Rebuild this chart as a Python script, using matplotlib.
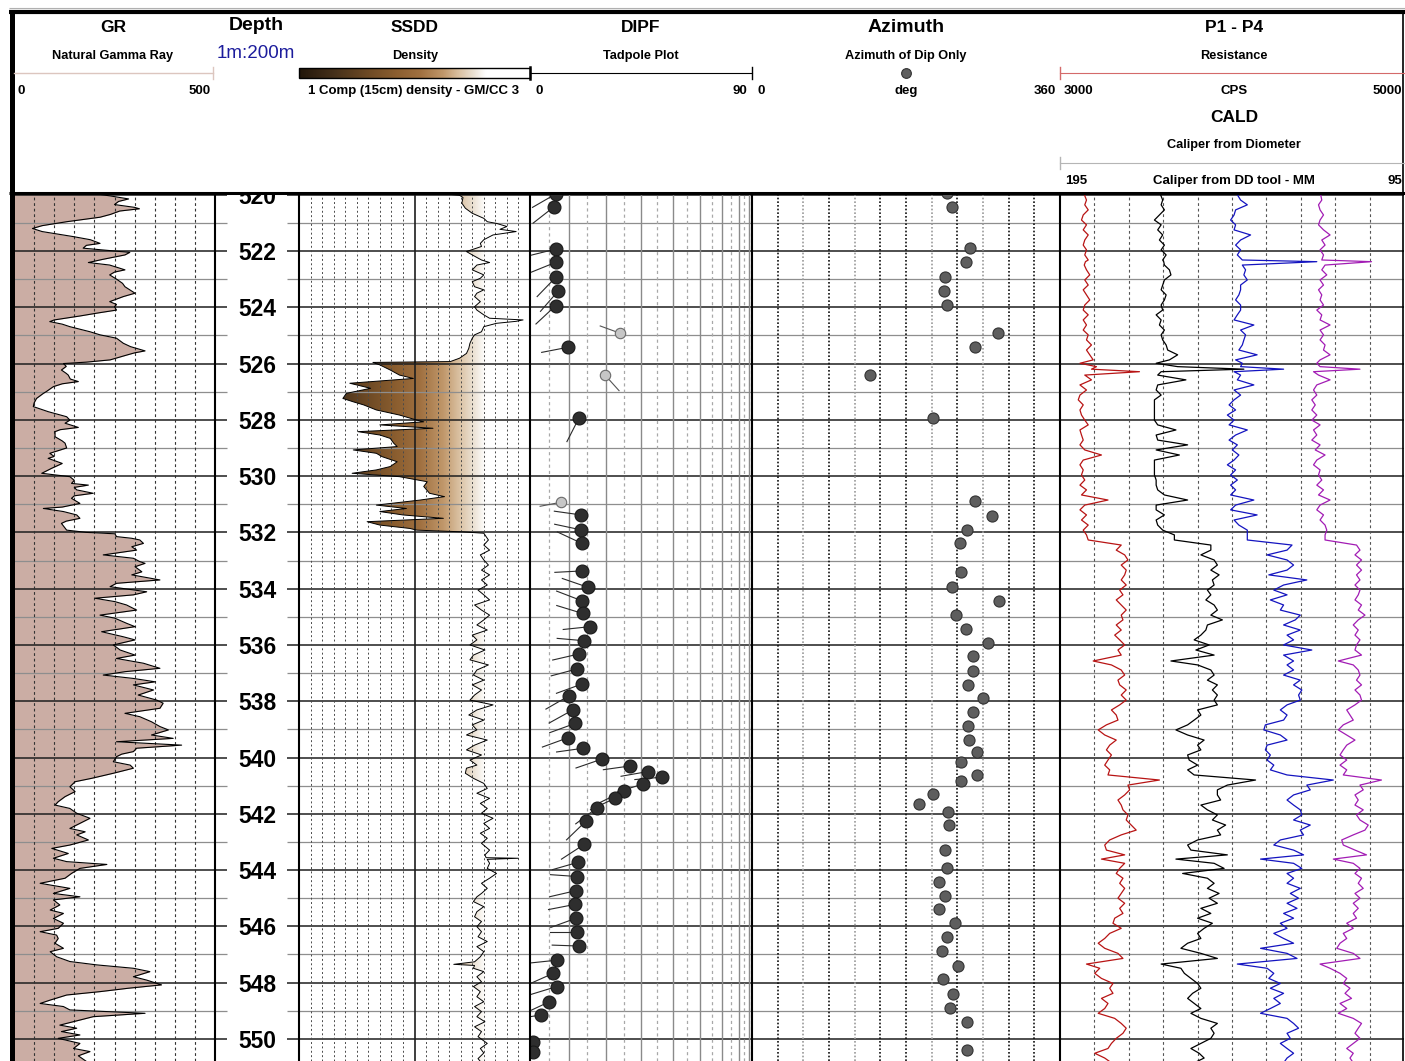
import numpy as np
import matplotlib
matplotlib.use("Agg")
import matplotlib.pyplot as plt
from matplotlib.colors import LinearSegmentedColormap
from matplotlib.patches import PathPatch, Rectangle
from matplotlib.path import Path
from matplotlib.ticker import MultipleLocator, NullLocator

plt.rcParams['font.family'] = ['Liberation Sans', 'DejaVu Sans']

# ---------------- log data ----------------
# natural gamma ray (API)
gr_depth = [519.95, 520.07, 520.15, 520.24, 520.35, 520.45, 520.50, 520.58, 520.70, 520.80,
            520.96, 521.10, 521.20, 521.31, 521.49, 521.60, 521.73, 521.80, 521.90, 522.00,
            522.05, 522.14, 522.30, 522.41, 522.50, 522.67, 522.75, 522.85, 523.00, 523.15,
            523.27, 523.40, 523.50, 523.62, 523.80, 523.90, 523.98, 524.10, 524.20, 524.31,
            524.45, 524.51, 524.60, 524.69, 524.87, 524.98, 525.10, 525.28, 525.40, 525.55,
            525.62, 525.70, 525.87, 525.95, 526.00, 526.10, 526.23, 526.35, 526.41, 526.55,
            526.64, 526.72, 526.82, 527.00, 527.06, 527.24, 527.40, 527.53, 527.71, 527.89,
            528.01, 528.12, 528.27, 528.35, 528.42, 528.60, 528.75, 528.83, 529.00, 529.19,
            529.30, 529.37, 529.50, 529.55, 529.72, 529.90, 530.02, 530.15, 530.26, 530.32,
            530.40, 530.49, 530.61, 530.70, 530.79, 530.97, 531.10, 531.15, 531.26, 531.38,
            531.50, 531.60, 531.68, 531.92, 532.00,
            532.05, 532.15, 532.21, 532.27, 532.39, 532.51, 532.63, 532.80, 532.92, 533.04,
            533.10, 533.22, 533.40, 533.51, 533.69, 533.81, 533.93, 534.11, 534.22, 534.34,
            534.46, 534.58, 534.76, 534.94, 535.05, 535.23, 535.35, 535.53, 535.71, 535.82,
            536.00, 536.18, 536.36, 536.48, 536.65, 536.83, 536.95, 537.07, 537.19, 537.31,
            537.42, 537.60, 537.78, 537.96, 538.07, 538.25, 538.43, 538.55, 538.73, 538.90,
            539.02, 539.20, 539.32, 539.44, 539.56, 539.67, 539.79, 539.88, 539.97, 540.15,
            540.27, 540.38, 540.56, 540.74, 540.86, 541.04, 541.21, 541.39, 541.57, 541.69,
            541.81, 541.98, 542.16, 542.34, 542.52, 542.64, 542.75, 542.93, 543.11, 543.23,
            543.41, 543.58, 543.70, 543.80, 543.94, 544.12, 544.29, 544.47, 544.65, 544.83,
            544.95, 545.06, 545.24, 545.42, 545.54, 545.72, 545.89, 546.07, 546.19, 546.31,
            546.43, 546.60, 546.78, 546.90, 547.08, 547.25, 547.37, 547.49, 547.61, 547.79,
            547.91, 548.08, 548.20, 548.32, 548.44, 548.62, 548.74, 548.85, 548.97, 549.09,
            549.21, 549.33, 549.51, 549.62, 549.74, 549.86, 549.98, 550.16, 550.34, 550.45,
            550.60, 550.80]
gr_api = [197, 251, 285, 260, 250, 300, 312, 263, 240, 214,
          131, 70, 46, 70, 148, 190, 214, 180, 172, 250,
          288, 276, 220, 185, 238, 276, 250, 238, 255, 270,
          276, 290, 301, 272, 238, 255, 250, 255, 210, 164,
          100, 89, 120, 139, 189, 214, 255, 272, 290, 326,
          300, 280, 239, 180, 123, 130, 118, 130, 135, 140,
          160, 120, 98, 80, 73, 56, 50, 48, 85, 131,
          139, 127, 160, 115, 102, 102, 120, 127, 131, 89,
          100, 85, 110, 120, 94, 69, 139, 150, 143, 185,
          150, 156, 197, 150, 143, 164, 120, 73, 123, 156,
          164, 130, 118, 131, 180,
          251, 255, 293, 313, 322, 293, 305, 222, 297, 313,
          326, 301, 318, 293, 363, 255, 239, 330, 297, 201,
          251, 280, 305, 214, 251, 280, 301, 218, 272, 301,
          247, 264, 301, 255, 322, 363, 276, 222, 297, 351,
          297, 347, 309, 355, 371, 363, 276, 313, 342, 363,
          384, 342, 396, 255, 417, 305, 297, 268, 255, 247,
          289, 297, 247, 193, 152, 139, 152, 127, 110, 102,
          139, 156, 189, 164, 139, 177, 156, 185, 139, 94,
          135, 98, 131, 231, 164, 143, 127, 65, 139, 98,
          164, 98, 114, 90, 123, 98, 123, 110, 65, 106,
          110, 102, 123, 90, 106, 139, 206, 297, 338, 297,
          330, 367, 284, 214, 131, 90, 65, 123, 139, 326,
          197, 164, 114, 156, 118, 164, 110, 164, 148, 189,
          160, 180]

# compensated density (g/cc)
dens_depth = [519.97, 520.02, 520.10, 520.30, 520.48, 520.66, 520.84, 520.96, 521.02, 521.13,
              521.23, 521.31, 521.43, 521.60, 521.73, 521.84, 522.02, 522.14, 522.32, 522.41,
              522.50, 522.67, 522.85, 522.97, 523.09, 523.27, 523.38, 523.50, 523.62, 523.80,
              523.98, 524.10, 524.27, 524.39, 524.45, 524.50, 524.57, 524.69, 524.87, 524.98,
              525.10, 525.28, 525.46, 525.64, 525.81, 525.93, 525.96, 526.05, 526.23, 526.41,
              526.53, 526.70, 526.88, 527.06, 527.24, 527.36, 527.47, 527.65, 527.83, 528.01,
              528.07, 528.18, 528.30, 528.42, 528.54, 528.66, 528.83, 528.95, 529.07, 529.19,
              529.31, 529.49, 529.66, 529.78, 529.90, 530.02, 530.20, 530.37, 530.61, 530.73,
              530.85, 531.03, 531.15, 531.26, 531.38, 531.50, 531.62, 531.74, 531.86, 531.92,
              531.98,
              532.03, 532.27, 532.45, 532.63, 532.80, 532.98, 533.16, 533.34, 533.51, 533.69,
              533.87, 534.05, 534.22, 534.40, 534.58, 534.76, 534.94, 535.11, 535.29, 535.47,
              535.65, 535.82, 536.00, 536.18, 536.36, 536.53, 536.71, 536.89, 537.07, 537.25,
              537.42, 537.60, 537.78, 537.96, 538.13, 538.31, 538.49, 538.67, 538.84, 539.02,
              539.20, 539.38, 539.56, 539.73, 539.91, 540.09, 540.27, 540.38, 540.56, 540.74,
              540.92, 541.10, 541.27, 541.45, 541.63, 541.81, 541.98, 542.16, 542.34, 542.52,
              542.69, 542.87, 543.05, 543.29, 543.46, 543.56, 543.58, 543.62, 543.76, 543.94,
              544.12, 544.29, 544.47, 544.65, 544.83, 544.95, 545.12, 545.30, 545.48, 545.66,
              545.83, 546.01, 546.19, 546.37, 546.54, 546.72, 546.90, 547.08, 547.26, 547.35,
              547.39, 547.49, 547.61, 547.79, 547.97, 548.14, 548.32, 548.50, 548.68, 548.85,
              549.03, 549.21, 549.39, 549.57, 549.74, 549.92, 550.16, 550.34, 550.50, 550.70,
              550.85]
dens_gcc = [2.26, 2.39, 2.42, 2.41, 2.44, 2.50, 2.60, 2.63, 2.71, 2.80,
            2.74, 2.88, 2.68, 2.60, 2.57, 2.58, 2.45, 2.50, 2.58, 2.65,
            2.54, 2.50, 2.60, 2.57, 2.50, 2.52, 2.60, 2.54, 2.52, 2.57,
            2.52, 2.54, 2.60, 2.65, 2.94, 2.88, 2.71, 2.60, 2.58, 2.52,
            2.50, 2.48, 2.47, 2.45, 2.39, 2.31, 1.64, 1.70, 1.79, 1.87,
            1.99, 1.44, 1.62, 1.41, 1.38, 1.47, 1.56, 1.67, 1.87, 2.02,
            2.08, 1.70, 2.16, 1.51, 1.70, 1.79, 1.82, 1.85, 1.47, 1.67,
            1.72, 1.85, 1.79, 1.67, 1.46, 1.87, 2.11, 2.08, 2.13, 2.26,
            2.05, 1.67, 1.93, 1.70, 1.90, 2.25, 1.59, 1.70, 1.96, 2.02,
            2.41,
            2.60, 2.64, 2.60, 2.65, 2.57, 2.60, 2.64, 2.58, 2.65, 2.58,
            2.63, 2.55, 2.60, 2.65, 2.52, 2.58, 2.65, 2.60, 2.54, 2.63,
            2.50, 2.54, 2.48, 2.61, 2.51, 2.48, 2.64, 2.54, 2.51, 2.60,
            2.50, 2.58, 2.52, 2.48, 2.68, 2.54, 2.47, 2.60, 2.50, 2.54,
            2.45, 2.63, 2.52, 2.45, 2.58, 2.48, 2.54, 2.45, 2.44, 2.51,
            2.60, 2.63, 2.54, 2.65, 2.57, 2.63, 2.58, 2.68, 2.60, 2.65,
            2.57, 2.63, 2.58, 2.65, 2.61, 2.62, 2.90, 2.63, 2.65, 2.63,
            2.71, 2.65, 2.58, 2.63, 2.58, 2.54, 2.51, 2.60, 2.54, 2.52,
            2.58, 2.54, 2.58, 2.55, 2.63, 2.54, 2.60, 2.57, 2.52, 2.34,
            2.52, 2.51, 2.60, 2.54, 2.58, 2.51, 2.57, 2.54, 2.60, 2.52,
            2.58, 2.54, 2.61, 2.52, 2.58, 2.55, 2.63, 2.57, 2.60, 2.55,
            2.58]

# dip picks (tadpoles): depth, dip (deg), dip azimuth (deg), quality (1 good, 0 poor)
tad_depth = [519.97, 520.42, 521.93, 522.40, 522.93, 523.42, 523.94, 524.92, 525.42, 526.41,
             527.92, 530.93, 531.38, 531.91, 532.39, 533.37, 533.95, 534.43, 534.88, 535.35,
             535.85, 536.32, 536.85, 537.39, 537.80, 538.31, 538.79, 539.30, 539.67, 540.06,
             540.30, 540.50, 540.70, 540.94, 541.18, 541.45, 541.78, 542.26, 543.09, 543.72,
             544.23, 544.73, 545.22, 545.71, 546.21, 546.70, 547.20, 547.67, 548.14, 548.68,
             549.15, 550.10, 550.45]
tad_dip = [6.7, 6.3, 6.7, 6.7, 6.7, 7.3, 6.65, 23.9, 9.9, 19.75,
           12.8, 7.95, 13.3, 13.3, 13.5, 13.5, 15.1, 13.5, 13.7, 15.7,
           14.1, 12.75, 12.3, 13.5, 10.2, 11.1, 11.7, 9.8, 13.9, 18.8,
           26.8, 32.0, 36.4, 30.7, 25.1, 22.5, 17.65, 14.6, 14.1, 12.6,
           12.3, 12.0, 11.7, 12.0, 12.3, 12.8, 7.1, 6.0, 6.9, 5.0,
           2.8, 0.85, 0.85]
tad_azi = [240, 232, 256, 248, 224, 221, 227, 290, 259, 138,
           207, 259, 278, 282, 295, 267, 289, 291, 287, 264,
           275, 257, 255, 250, 240, 241, 250, 250, 262, 251,
           262, 260, 265, 253, 244, 245, 233, 226, 237, 254,
           274, 257, 259, 250, 270, 272, 264, 246, 253, 245,
           261, 250, 250]
tad_good = [1, 1, 1, 1, 1, 1, 1, 0, 1, 0,
            1, 0, 1, 1, 1, 1, 1, 1, 1, 1,
            1, 1, 1, 1, 1, 1, 1, 1, 1, 1,
            1, 1, 1, 1, 1, 1, 1, 1, 1, 1,
            1, 1, 1, 1, 1, 1, 1, 1, 1, 1,
            1, 1, 1]

# azimuth of dip only
azi_depth = [519.93, 520.43, 521.90, 522.40, 522.93, 523.43, 523.92, 524.92, 525.42, 526.41,
             527.93, 530.89, 531.42, 531.91, 532.37, 533.40, 533.95, 534.44, 534.94, 535.43,
             535.92, 536.38, 536.91, 537.44, 537.90, 538.39, 538.88, 539.38, 539.81, 540.17,
             540.62, 540.82, 541.31, 541.65, 541.94, 542.40, 543.27, 543.92, 544.41, 544.91,
             545.40, 545.89, 546.39, 546.88, 547.41, 547.87, 548.40, 548.89, 549.39, 550.39]
azi_deg = [228, 234, 255, 250, 226, 224, 228, 287, 261, 138,
           211, 261, 281, 251, 243, 244, 234, 289, 238, 250,
           276, 258, 258, 253, 270, 258, 253, 254, 263, 244,
           263, 244, 211, 195, 229, 230, 226, 228, 219, 226,
           219, 237, 228, 222, 241, 223, 235, 231, 251, 251]

# resistance P1 - P4 (CPS)
p_depth = [519.90, 520.19, 520.36, 520.54, 520.72, 520.90, 521.07, 521.25, 521.43, 521.61,
           521.79, 521.96, 522.14, 522.32, 522.38, 522.50, 522.67, 522.85, 523.03, 523.21,
           523.38, 523.56, 523.74, 523.92, 524.10, 524.27, 524.45, 524.63, 524.81, 524.98,
           525.16, 525.34, 525.52, 525.69, 525.87, 525.99, 526.11, 526.20, 526.29, 526.41,
           526.58, 526.76, 526.94, 527.12, 527.29, 527.47, 527.65, 527.83, 528.01, 528.18,
           528.36, 528.54, 528.72, 528.89, 529.07, 529.25, 529.43, 529.60, 529.78, 529.96,
           530.14, 530.32, 530.49, 530.67, 530.85, 531.03, 531.20, 531.38, 531.56, 531.74,
           531.92,
           532.09, 532.27, 532.45, 532.63, 532.80, 532.98, 533.16, 533.34, 533.51, 533.69,
           533.87, 534.05, 534.22, 534.40, 534.58, 534.76, 534.94, 535.11, 535.29, 535.47,
           535.65, 535.82, 536.00, 536.18, 536.36, 536.57, 536.71, 536.89, 537.07, 537.25,
           537.42, 537.60, 537.78, 537.96, 538.13, 538.31, 538.49, 538.67, 538.84, 539.02,
           539.20, 539.38, 539.56, 539.73, 539.91, 540.09, 540.27, 540.44, 540.62, 540.80,
           540.98, 541.15, 541.33, 541.51, 541.69, 541.86, 542.04, 542.22, 542.40, 542.58,
           542.75, 542.93, 543.11, 543.29, 543.46, 543.61, 543.76, 543.94, 544.12, 544.29,
           544.47, 544.65, 544.83, 545.00, 545.18, 545.36, 545.54, 545.71, 545.89, 546.07,
           546.25, 546.43, 546.60, 546.78, 546.96, 547.14, 547.34, 547.49, 547.67, 547.85,
           548.03, 548.20, 548.38, 548.56, 548.74, 548.92, 549.09, 549.27, 549.45, 549.62,
           549.80, 549.98, 550.16, 550.34, 550.51, 550.68, 550.85]
p1_cps = [3135, 3154, 3144, 3164, 3135, 3125, 3154, 3135, 3164, 3144,
          3135, 3154, 3144, 3164, 3148, 3141, 3154, 3173, 3144, 3164,
          3135, 3154, 3173, 3144, 3135, 3164, 3135, 3154, 3135, 3164,
          3154, 3183, 3154, 3173, 3193, 3116, 3212, 3183, 3462, 3144,
          3183, 3116, 3154, 3116, 3106, 3135, 3116, 3125, 3144, 3164,
          3116, 3125, 3135, 3116, 3144, 3241, 3135, 3116, 3135, 3125,
          3144, 3116, 3154, 3125, 3279, 3144, 3116, 3154, 3125, 3164,
          3135,
          3154, 3164, 3356, 3327, 3376, 3395, 3356, 3385, 3376, 3356,
          3385, 3347, 3366, 3327, 3356, 3385, 3356, 3366, 3327, 3356,
          3318, 3347, 3376, 3337, 3356, 3193, 3299, 3356, 3376, 3337,
          3347, 3385, 3356, 3385, 3347, 3299, 3327, 3337, 3270, 3222,
          3260, 3327, 3289, 3270, 3299, 3279, 3260, 3289, 3279, 3578,
          3395, 3405, 3376, 3337, 3356, 3366, 3395, 3385, 3414, 3443,
          3356, 3289, 3260, 3270, 3376, 3241, 3376, 3347, 3327, 3366,
          3347, 3376, 3356, 3337, 3376, 3347, 3366, 3318, 3308, 3356,
          3289, 3260, 3222, 3260, 3337, 3366, 3154, 3231, 3202, 3241,
          3308, 3289, 3308, 3241, 3279, 3260, 3222, 3318, 3356, 3385,
          3366, 3327, 3299, 3279, 3202, 3260, 3299]
p2_cps = [3578, 3597, 3588, 3607, 3578, 3549, 3588, 3568, 3597, 3578,
          3607, 3588, 3617, 3597, 3603, 3607, 3636, 3645, 3607, 3597,
          3588, 3617, 3607, 3588, 3597, 3559, 3588, 3578, 3607, 3588,
          3597, 3617, 3626, 3684, 3636, 3559, 3684, 4069, 3588, 3568,
          3732, 3568, 3559, 3588, 3549, 3549, 3549, 3549, 3549, 3568,
          3674, 3559, 3568, 3742, 3559, 3694, 3549, 3549, 3549, 3549,
          3559, 3559, 3568, 3607, 3742, 3559, 3559, 3607, 3559, 3568,
          3597,
          3665, 3665, 3877, 3877, 3819, 3896, 3915, 3877, 3925, 3886,
          3896, 3857, 3877, 3848, 3896, 3915, 3877, 3944, 3857, 3848,
          3819, 3780, 3867, 3790, 3896, 3645, 3800, 3877, 3896, 3857,
          3915, 3886, 3915, 3896, 3915, 3800, 3819, 3780, 3742, 3674,
          3742, 3838, 3800, 3819, 3742, 3751, 3800, 3742, 3780, 4137,
          3973, 3915, 3915, 3934, 3819, 3857, 3915, 3886, 3963, 3915,
          3934, 3800, 3742, 3761, 3973, 3674, 3896, 3954, 3713, 3857,
          3896, 3857, 3925, 3867, 3915, 3819, 3877, 3800, 3886, 3838,
          3800, 3819, 3742, 3703, 3819, 3915, 3588, 3703, 3723, 3761,
          3800, 3819, 3771, 3742, 3780, 3819, 3761, 3819, 3915, 3877,
          3896, 3877, 3819, 3761, 3809, 3838, 3780]
p3_cps = [4021, 4050, 4089, 4021, 4012, 3992, 4021, 4012, 4108, 4050,
          4021, 4050, 4031, 4060, 4493, 4060, 4079, 4069, 4089, 4050,
          4050, 4040, 4021, 4050, 4050, 4031, 4012, 4127, 4050, 4079,
          4069, 4060, 4040, 4146, 4021, 4060, 4050, 4300, 4012, 4050,
          4031, 4127, 4012, 4050, 4012, 3983, 4021, 3973, 4012, 3983,
          4089, 4021, 3983, 4031, 4002, 4040, 4012, 3973, 4021, 3992,
          4031, 3992, 4021, 3992, 4127, 4021, 3992, 4146, 4012, 4040,
          4089,
          4089, 4089, 4349, 4320, 4204, 4320, 4358, 4320, 4214, 4435,
          4300, 4243, 4320, 4223, 4300, 4281, 4397, 4368, 4300, 4397,
          4320, 4358, 4300, 4464, 4300, 4358, 4320, 4358, 4300, 4397,
          4358, 4406, 4387, 4397, 4320, 4281, 4320, 4300, 4194, 4185,
          4281, 4320, 4204, 4194, 4223, 4204, 4243, 4223, 4320, 4589,
          4435, 4455, 4358, 4320, 4358, 4397, 4406, 4358, 4455, 4397,
          4416, 4281, 4243, 4358, 4416, 4166, 4358, 4406, 4320, 4358,
          4320, 4397, 4339, 4387, 4320, 4378, 4300, 4358, 4281, 4320,
          4243, 4300, 4358, 4166, 4320, 4378, 4031, 4204, 4243, 4214,
          4281, 4223, 4300, 4243, 4281, 4223, 4166, 4320, 4358, 4387,
          4320, 4339, 4281, 4320, 4358, 4320, 4300]
p4_cps = [4512, 4522, 4503, 4512, 4532, 4512, 4503, 4532, 4570, 4522,
          4541, 4512, 4532, 4522, 4811, 4541, 4522, 4551, 4512, 4532,
          4503, 4522, 4512, 4532, 4493, 4522, 4512, 4570, 4512, 4532,
          4512, 4541, 4532, 4570, 4512, 4493, 4512, 4744, 4474, 4503,
          4570, 4493, 4474, 4493, 4464, 4484, 4464, 4493, 4464, 4512,
          4474, 4493, 4464, 4512, 4484, 4541, 4493, 4474, 4512, 4503,
          4522, 4493, 4532, 4503, 4570, 4512, 4493, 4532, 4512, 4541,
          4551,
          4541, 4541, 4724, 4744, 4715, 4753, 4724, 4753, 4724, 4744,
          4715, 4744, 4734, 4715, 4753, 4734, 4773, 4734, 4705, 4734,
          4715, 4744, 4724, 4715, 4753, 4618, 4705, 4734, 4744, 4724,
          4753, 4715, 4744, 4753, 4715, 4667, 4686, 4705, 4647, 4618,
          4667, 4715, 4667, 4647, 4628, 4667, 4628, 4667, 4647, 4869,
          4744, 4763, 4715, 4734, 4715, 4763, 4724, 4744, 4792, 4773,
          4705, 4638, 4647, 4715, 4782, 4589, 4705, 4744, 4715, 4753,
          4734, 4763, 4715, 4744, 4705, 4734, 4705, 4724, 4667, 4705,
          4647, 4667, 4628, 4609, 4705, 4744, 4512, 4570, 4628, 4667,
          4647, 4686, 4657, 4695, 4628, 4667, 4618, 4705, 4753, 4734,
          4715, 4744, 4705, 4667, 4705, 4686, 4705]

# ---------------- layout ----------------
W, H = 1405, 1061
TOP = 194
D_TOP, D_BOT = 519.975, 550.785

dens_cmap = LinearSegmentedColormap.from_list('dens', [
    (0.0, '#22160a'), (0.15, '#45301a'), (0.3, '#6e4a25'), (0.425, '#8c5f30'),
    (0.525, '#a07040'), (0.625, '#c0976a'), (0.7, '#dcc4a6'), (0.76, '#ece3d6'),
    (0.81, '#ffffff'), (1.0, '#ffffff')])

fig = plt.figure(figsize=(W / 100, H / 100), dpi=100)
fig.patch.set_facecolor('white')


def track(x0, x1):
    ax = fig.add_axes([x0 / W, 0, (x1 - x0) / W, (H - TOP) / H])
    ax.set_ylim(D_BOT, D_TOP)
    ax.set_xticks([])
    ax.set_yticks([])
    for s in ax.spines.values():
        s.set_visible(False)
    return ax


def depth_lines(ax):
    for d in range(520, 551):
        if d % 2 == 0:
            ax.axhline(d, color='#1e1e1e', lw=1.1, zorder=1)
        else:
            ax.axhline(d, color='#8e8e8e', lw=0.9, zorder=1)


# GR track
ax_gr = track(14, 215)
ax_gr.set_xlim(0, 500)
depth_lines(ax_gr)
for v in range(50, 500, 50):
    ax_gr.axvline(v, color='#333333', lw=0.8, ls=(0, (2.5, 2.5)), zorder=1)
ax_gr.fill_betweenx(gr_depth, 0, gr_api, color='#cbada4', lw=0, zorder=0.5)
ax_gr.plot(gr_api, gr_depth, color='black', lw=0.8, zorder=2)

# depth track
ax_dp = track(215, 299)
ax_dp.set_xlim(0, 1)
ax_dp.yaxis.set_major_locator(MultipleLocator(2))
ax_dp.yaxis.set_minor_locator(MultipleLocator(1))
ax_dp.tick_params(axis='y', which='major', direction='in', length=8.6, width=1.1,
                  color='#1e1e1e', left=True, right=True, labelleft=False)
ax_dp.tick_params(axis='y', which='minor', direction='in', length=8.6, width=0.9,
                  color='#8e8e8e', left=True, right=True)
for d in range(520, 551, 2):
    ax_dp.text(0.5, d, str(d), transform=ax_dp.get_yaxis_transform(), ha='center',
               va='center_baseline', fontsize=16.5, fontweight='bold', clip_on=True)

# SSDD track
ax_sd = track(299, 530)
ax_sd.set_xlim(1, 3)
depth_lines(ax_sd)
for k in range(11, 30):
    if k == 20:
        ax_sd.axvline(k / 10, color='#1e1e1e', lw=1.2, zorder=1)
    else:
        ax_sd.axvline(k / 10, color='#4a4a4a', lw=0.7, ls=(0, (2, 2.5)), zorder=1)
grad = np.linspace(1, 3, 600).reshape(1, -1)
im = ax_sd.imshow(grad, extent=(1, 3, D_BOT, D_TOP), aspect='auto', cmap=dens_cmap,
                  vmin=1, vmax=3, zorder=0.5, interpolation='bilinear')
band = ax_sd.fill_betweenx(dens_depth, dens_gcc, 3, facecolor='none', edgecolor='none')
clip = PathPatch(Path.make_compound_path(*band.get_paths()), transform=ax_sd.transData,
                 facecolor='none', edgecolor='none')
ax_sd.add_patch(clip)
im.set_clip_path(clip)
ax_sd.plot(dens_gcc, dens_depth, color='black', lw=0.7, zorder=2)
ax_sd.set_xlim(1, 3)
ax_sd.set_ylim(D_BOT, D_TOP)

# DIPF tadpole track (sine scale)
ax_dip = track(530, 752)
ax_dip.set_xscale('function', functions=(lambda a: np.sin(np.radians(a)),
                                         lambda s: np.degrees(np.arcsin(np.clip(s, -1, 1)))))
ax_dip.set_xlim(0, 90)
ax_dip.xaxis.set_major_locator(NullLocator())
ax_dip.xaxis.set_minor_locator(NullLocator())
depth_lines(ax_dip)
for a in range(5, 90, 5):
    if a % 10 == 0:
        ax_dip.axvline(a, color='#8a8a8a', lw=1.0, zorder=1)
    else:
        ax_dip.axvline(a, color='#a8a8a8', lw=0.9, ls=(0, (2.5, 2.5)), zorder=1)
for d, dip, az, good in zip(tad_depth, tad_dip, tad_azi, tad_good):
    p = ax_dip.transData.transform((dip, d))
    L = 27 if good else 21
    q = p + L * np.array([np.sin(np.radians(az)), np.cos(np.radians(az))])
    qx, qy = ax_dip.transData.inverted().transform(q)
    ax_dip.plot([dip, qx], [d, qy], color='#2a2a2a' if good else '#555555', lw=0.8, zorder=3)
    if good:
        ax_dip.plot(dip, d, 'o', ms=9.3, mfc='#2e2e2e', mec='#1a1a1a', mew=0.8, zorder=4)
    else:
        ax_dip.plot(dip, d, 'o', ms=7.5, mfc='#c6c6c6', mec='#6a6a6a', mew=0.8, zorder=4)

# azimuth track
ax_az = track(752, 1060)
ax_az.set_xlim(0, 360)
depth_lines(ax_az)
for a in range(30, 360, 30):
    c = '#9a9a9a' if a in (60, 120, 210, 270) else '#111111'
    ax_az.axvline(a, color=c, lw=1.2, ls=(0, (1, 1.2)), zorder=1)
ax_az.plot(azi_deg, azi_depth, 'o', ms=8, mfc='#5e5e5e', mec='#333333', mew=0.8, zorder=3)

# P1 - P4 track
ax_p = track(1060, 1404)
ax_p.set_xlim(3000, 5000)
depth_lines(ax_p)
for v in range(3200, 5000, 200):
    ax_p.axvline(v, color='#555555', lw=0.8, ls=(0, (2.5, 2.5)), zorder=1)
for vals, c in [(p1_cps, '#b81414'), (p2_cps, '#000000'), (p3_cps, '#1414c0'), (p4_cps, '#a21cb4')]:
    ax_p.plot(vals, p_depth, color=c, lw=0.9, zorder=2)

# ---------------- header and frame ----------------
ov = fig.add_axes([0, 0, 1, 1])
ov.set_xlim(0, W)
ov.set_ylim(H, 0)
ov.axis('off')


def htxt(x, y, s, size, bold=True, ha='center', color='black'):
    ov.text(x, y, s, fontsize=size, fontweight='bold' if bold else 'normal',
            ha=ha, va='center', color=color)


ov.hlines(8, 9, W, color='#b0b0b0', lw=0.8)
ov.hlines(12, 9, W, color='black', lw=3.0)
ov.vlines(11.5, 10, H, color='black', lw=3.6)
ov.hlines(193, 9, W, color='black', lw=2.2)
ov.vlines([215, 299, 530, 752, 1060], 193, H, color='black', lw=1.5)
ov.vlines(1403, 12, H, color='black', lw=1.2)

htxt(113, 27, 'GR', 12.5)
htxt(113, 56, 'Natural Gamma Ray', 9.2)
ov.plot([14, 213], [73, 73], color='#dcc6bf', lw=1)
ov.plot([213, 213], [67, 79], color='#dcc6bf', lw=1)
htxt(18, 91, '0', 9.5, ha='left')
htxt(211, 91, '500', 9.5, ha='right')

htxt(256, 26, 'Depth', 14)
htxt(256, 54, '1m:200m', 13.5, bold=False, color='#1c1c9c')

htxt(415, 27, 'SSDD', 12.5)
htxt(415, 56, 'Density', 9.2)
ov.imshow(grad, extent=(299, 530, 78, 68), aspect='auto', cmap=dens_cmap, vmin=1, vmax=3,
          interpolation='bilinear')
ov.add_patch(Rectangle((299, 68), 231, 10, fill=False, ec='black', lw=1))
htxt(414, 91, '1 Comp (15cm) density - GM/CC 3', 9.5)

htxt(641, 27, 'DIPF', 12.5)
htxt(641, 56, 'Tadpole Plot', 9.2)
ov.plot([530, 752], [73, 73], color='black', lw=0.8)
ov.plot([530, 530], [67, 79], color='black', lw=1.8)
ov.plot([752, 752], [67, 79], color='black', lw=1.0)
htxt(536, 91, '0', 9.5, ha='left')
htxt(747, 91, '90', 9.5, ha='right')

htxt(906, 27, 'Azimuth', 14)
htxt(906, 56, 'Azimuth of Dip Only', 9.2)
ov.plot(906, 73, 'o', ms=7, mfc='#5e5e5e', mec='#333333', mew=0.8)
htxt(758, 91, '0', 9.5, ha='left')
htxt(906, 91, 'deg', 9.5)
htxt(1056, 91, '360', 9.5, ha='right')

htxt(1234, 27, 'P1 - P4', 12.5)
htxt(1234, 56, 'Resistance', 9.2)
ov.plot([1060, W], [73, 73], color='#d46a6a', lw=0.8)
ov.plot([1060, 1060], [67, 79], color='#d46a6a', lw=1.0)
htxt(1064, 91, '3000', 9.5, ha='left')
htxt(1234, 91, 'CPS', 9.5)
htxt(1402, 91, '5000', 9.5, ha='right')

htxt(1234, 118, 'CALD', 12.5)
htxt(1234, 145, 'Caliper from Diometer', 9.2)
ov.plot([1060, W], [163, 163], color='#b5b5b5', lw=0.8)
ov.plot([1060, 1060], [157, 169], color='#b5b5b5', lw=1.0)
htxt(1065, 181, '195', 9.5, ha='left')
htxt(1234, 181, 'Caliper from DD tool - MM', 9.5)
htxt(1402, 181, '95', 9.5, ha='right')

ov.set_xlim(0, W)
ov.set_ylim(H, 0)

fig.savefig('out.png', dpi=100)
